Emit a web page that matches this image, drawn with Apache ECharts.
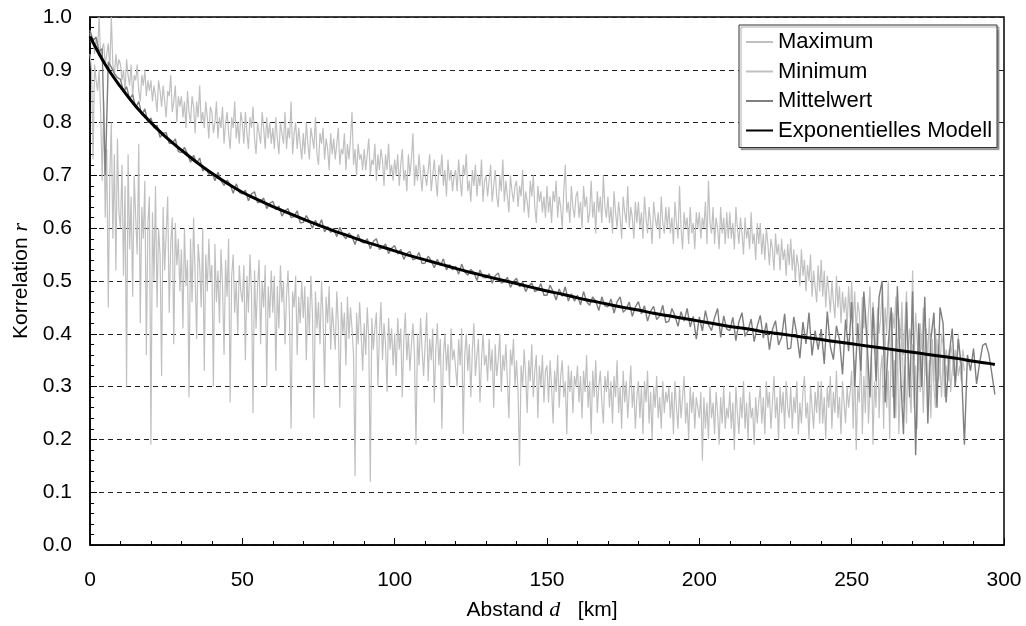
<!DOCTYPE html>
<html>
<head>
<meta charset="utf-8">
<script src="https://cdn.jsdelivr.net/npm/echarts@6/dist/echarts.min.js"></script>
<style>
html,body{margin:0;padding:0;background:#fff;}
#c{width:1026px;height:626px;}
</style>
</head>
<body>
<div id="c"></div>
<script>
// Maximum / Minimum: one value every 0.5 km starting at 0 km
const stepMaxMin = 0.5;
const maximumR = [
0.97,0.95,0.96,0.93,0.96,0.94,1.00,0.92,0.94,0.95,0.91,0.93,0.95,0.90,1.00,0.91,0.89,0.93,0.90,0.92,
0.91,0.88,0.90,0.86,0.92,0.89,0.87,0.91,0.85,0.89,0.88,0.91,0.86,0.84,0.89,0.87,0.90,0.85,0.88,0.86,
0.88,0.84,0.87,0.85,0.82,0.88,0.86,0.83,0.87,0.84,0.81,0.86,0.85,0.89,0.82,0.84,0.87,0.80,0.85,0.83,
0.85,0.81,0.84,0.79,0.86,0.82,0.80,0.85,0.83,0.78,0.84,0.81,0.87,0.80,0.82,0.79,0.84,0.81,0.77,0.83,
0.82,0.78,0.80,0.84,0.77,0.81,0.79,0.83,0.76,0.80,0.82,0.78,0.75,0.81,0.79,0.84,0.77,0.80,0.76,0.82,
0.80,0.76,0.82,0.78,0.75,0.81,0.79,0.83,0.77,0.74,0.80,0.78,0.76,0.82,0.79,0.75,0.81,0.77,0.80,0.76,
0.79,0.75,0.81,0.77,0.74,0.80,0.78,0.76,0.82,0.75,0.79,0.77,0.84,0.74,0.78,0.80,0.75,0.79,0.76,0.73,
0.78,0.74,0.80,0.76,0.73,0.79,0.77,0.75,0.81,0.74,0.72,0.78,0.76,0.79,0.73,0.77,0.75,0.71,0.78,0.74,
0.77,0.73,0.76,0.79,0.72,0.75,0.74,0.78,0.71,0.76,0.73,0.77,0.82,0.72,0.75,0.70,0.76,0.73,0.74,0.71,
0.75,0.71,0.74,0.77,0.70,0.73,0.72,0.76,0.69,0.74,0.71,0.75,0.73,0.68,0.74,0.71,0.76,0.70,0.72,0.69,
0.73,0.70,0.74,0.68,0.72,0.75,0.69,0.71,0.67,0.74,0.70,0.73,0.78,0.68,0.72,0.69,0.74,0.70,0.67,0.72,
0.72,0.68,0.71,0.74,0.67,0.70,0.73,0.69,0.66,0.72,0.70,0.74,0.68,0.71,0.66,0.73,0.69,0.71,0.67,0.70,
0.71,0.67,0.73,0.69,0.66,0.72,0.70,0.74,0.67,0.69,0.65,0.71,0.68,0.72,0.66,0.70,0.68,0.73,0.65,0.69,
0.70,0.66,0.69,0.72,0.65,0.68,0.71,0.66,0.64,0.70,0.67,0.73,0.65,0.69,0.66,0.63,0.70,0.67,0.65,0.68,
0.69,0.64,0.68,0.66,0.71,0.63,0.67,0.65,0.62,0.69,0.66,0.70,0.64,0.61,0.68,0.65,0.67,0.63,0.66,0.62,
0.68,0.63,0.66,0.61,0.67,0.65,0.69,0.62,0.66,0.64,0.60,0.67,0.72,0.63,0.65,0.61,0.68,0.64,0.62,0.66,
0.67,0.62,0.65,0.60,0.68,0.64,0.66,0.61,0.63,0.69,0.62,0.65,0.59,0.67,0.63,0.66,0.61,0.70,0.64,0.62,
0.66,0.61,0.64,0.59,0.67,0.63,0.60,0.65,0.62,0.58,0.66,0.63,0.61,0.68,0.60,0.64,0.62,0.58,0.65,0.61,
0.65,0.60,0.63,0.58,0.66,0.62,0.59,0.64,0.61,0.57,0.65,0.62,0.60,0.63,0.58,0.66,0.61,0.59,0.64,0.60,
0.64,0.59,0.62,0.57,0.65,0.61,0.58,0.68,0.60,0.56,0.63,0.60,0.62,0.57,0.64,0.59,0.61,0.56,0.63,0.60,
0.63,0.58,0.62,0.60,0.65,0.57,0.69,0.61,0.59,0.64,0.57,0.62,0.60,0.56,0.64,0.59,0.62,0.57,0.63,0.58,
0.63,0.58,0.61,0.56,0.64,0.60,0.57,0.62,0.59,0.55,0.62,0.58,0.60,0.56,0.63,0.57,0.59,0.54,0.61,0.57,
0.61,0.55,0.59,0.54,0.60,0.57,0.53,0.58,0.56,0.52,0.59,0.55,0.57,0.52,0.58,0.54,0.56,0.51,0.57,0.53,
0.58,0.52,0.56,0.50,0.55,0.53,0.49,0.56,0.51,0.54,0.48,0.53,0.50,0.55,0.47,0.52,0.49,0.46,0.53,0.48,
0.54,0.47,0.52,0.45,0.51,0.48,0.44,0.50,0.46,0.43,0.51,0.45,0.49,0.42,0.48,0.44,0.47,0.41,0.49,0.43,
0.50,0.42,0.48,0.40,0.46,0.44,0.38,0.47,0.41,0.45,0.37,0.44,0.49,0.39,0.46,0.42,0.36,0.45,0.40,0.43,
0.48,0.36,0.45,0.40,0.50,0.38,0.35,0.44,0.41,0.47,0.34,0.43,0.39,0.46,0.36,0.42,0.48,0.35,0.41,0.38,
0.52,0.35,0.44,0.39,0.33,0.42,0.37,0.45,0.32,0.40,0.36,0.43,0.34,0.39,0.31,0.41,0.36,0.38,0.33,0.40,
0.38,0.33,0.37,0.35,0.31,0.38,0.36,0.32,0.37,0.34,0.40,0.35,0.33,0.37,0.35
];
const minimumR = [
0.93,0.90,0.73,0.91,0.88,0.86,0.90,0.82,0.69,0.84,0.62,0.75,0.45,0.70,0.80,0.58,0.74,0.52,0.77,0.63,
0.60,0.72,0.51,0.68,0.30,0.74,0.56,0.66,0.47,0.70,0.62,0.55,0.76,0.42,0.64,0.58,0.69,0.36,0.61,0.66,
0.19,0.63,0.50,0.68,0.45,0.60,0.55,0.32,0.64,0.52,0.59,0.66,0.44,0.57,0.62,0.38,0.61,0.53,0.58,0.48,
0.56,0.41,0.60,0.49,0.54,0.28,0.58,0.46,0.62,0.51,0.39,0.57,0.53,0.45,0.60,0.33,0.55,0.48,0.58,0.50,
0.53,0.30,0.57,0.46,0.52,0.42,0.56,0.49,0.36,0.54,0.47,0.58,0.27,0.51,0.55,0.44,0.50,0.40,0.53,0.48,
0.46,0.53,0.35,0.51,0.44,0.55,0.48,0.25,0.52,0.41,0.49,0.54,0.38,0.50,0.45,0.53,0.30,0.49,0.43,0.52,
0.44,0.51,0.33,0.49,0.41,0.53,0.46,0.50,0.38,0.47,0.52,0.43,0.22,0.48,0.45,0.51,0.36,0.47,0.42,0.50,
0.43,0.49,0.35,0.47,0.40,0.51,0.44,0.24,0.48,0.41,0.46,0.38,0.50,0.43,0.30,0.47,0.42,0.49,0.37,0.45,
0.45,0.37,0.48,0.42,0.26,0.46,0.40,0.44,0.34,0.47,0.39,0.45,0.41,0.36,0.13,0.44,0.38,0.46,0.40,0.33,
0.42,0.36,0.45,0.39,0.12,0.43,0.37,0.41,0.44,0.30,0.40,0.46,0.35,0.42,0.38,0.29,0.43,0.37,0.41,0.34,
0.40,0.32,0.43,0.37,0.41,0.28,0.39,0.44,0.35,0.40,0.33,0.38,0.42,0.36,0.19,0.40,0.34,0.43,0.37,0.32,
0.38,0.44,0.31,0.39,0.35,0.41,0.27,0.37,0.42,0.34,0.39,0.22,0.36,0.40,0.33,0.38,0.30,0.41,0.35,0.37,
0.37,0.30,0.39,0.34,0.41,0.21,0.36,0.40,0.33,0.38,0.28,0.37,0.42,0.32,0.36,0.39,0.27,0.35,0.40,0.34,
0.36,0.31,0.39,0.33,0.37,0.26,0.38,0.32,0.35,0.40,0.29,0.36,0.33,0.38,0.31,0.24,0.37,0.34,0.39,0.30,
0.35,0.29,0.15,0.34,0.30,0.37,0.32,0.25,0.35,0.31,0.38,0.28,0.33,0.36,0.24,0.34,0.30,0.36,0.27,0.33,
0.34,0.27,0.35,0.30,0.23,0.33,0.29,0.36,0.26,0.32,0.35,0.28,0.31,0.21,0.34,0.29,0.33,0.25,0.32,0.30,
0.34,0.27,0.32,0.24,0.33,0.29,0.36,0.26,0.31,0.21,0.33,0.28,0.35,0.25,0.30,0.33,0.27,0.23,0.32,0.29,
0.33,0.26,0.31,0.23,0.32,0.28,0.35,0.25,0.30,0.22,0.33,0.27,0.31,0.24,0.29,0.34,0.26,0.30,0.22,0.28,
0.31,0.24,0.30,0.21,0.31,0.27,0.33,0.23,0.29,0.20,0.30,0.26,0.32,0.24,0.28,0.22,0.31,0.25,0.29,0.27,
0.30,0.24,0.29,0.21,0.31,0.26,0.22,0.30,0.24,0.28,0.32,0.23,0.27,0.20,0.30,0.25,0.29,0.22,0.28,0.26,
0.24,0.29,0.16,0.28,0.22,0.27,0.20,0.30,0.24,0.27,0.21,0.29,0.25,0.19,0.28,0.23,0.30,0.22,0.26,0.24,
0.29,0.22,0.27,0.18,0.30,0.25,0.21,0.28,0.24,0.31,0.22,0.27,0.20,0.29,0.24,0.26,0.19,0.28,0.23,0.27,
0.30,0.23,0.28,0.21,0.31,0.26,0.29,0.22,0.27,0.32,0.24,0.28,0.20,0.30,0.25,0.29,0.22,0.31,0.26,0.24,
0.30,0.22,0.28,0.25,0.31,0.21,0.27,0.23,0.29,0.32,0.24,0.27,0.20,0.30,0.26,0.22,0.29,0.25,0.31,0.23,
0.31,0.23,0.28,0.20,0.30,0.26,0.32,0.22,0.29,0.25,0.33,0.24,0.28,0.21,0.31,0.27,0.23,0.30,0.26,0.29,
0.33,0.22,0.35,0.18,0.30,0.27,0.38,0.21,0.32,0.25,0.40,0.23,0.29,0.36,0.19,0.31,0.26,0.42,0.24,0.33,
0.36,0.22,0.40,0.26,0.33,0.20,0.42,0.28,0.35,0.24,0.39,0.21,0.31,0.44,0.27,0.34,0.23,0.37,0.29,0.25,
0.38,0.26,0.34,0.22,0.40,0.29,0.36,0.25,0.33,0.41,0.28,0.35,0.24,0.37,0.30,0.26,0.39,0.31,0.34,0.28,
0.36,0.28,0.34,0.31,0.37,0.29,0.33,0.35,0.30,0.36,0.32,0.34,0.31,0.35,0.33
];
// Mittelwert: one value every 1 km starting at 0 km
const stepMittel = 1;
const mittelwertR = [
0.975,0.955,0.962,0.935,0.940,0.700,0.915,0.905,0.893,0.885,
0.882,0.858,0.868,0.845,0.853,0.828,0.840,0.814,0.826,0.800,
0.809,0.790,0.795,0.772,0.780,0.781,0.761,0.761,0.769,0.745,
0.743,0.753,0.741,0.725,0.738,0.723,0.733,0.708,0.715,0.702,
0.706,0.690,0.706,0.690,0.681,0.691,0.683,0.666,0.684,0.668,
0.665,0.672,0.652,0.665,0.669,0.648,0.651,0.657,0.637,0.647,
0.651,0.635,0.642,0.623,0.633,0.637,0.620,0.622,0.633,0.610,
0.611,0.624,0.614,0.600,0.615,0.603,0.616,0.593,0.603,0.592,
0.599,0.584,0.602,0.587,0.580,0.591,0.584,0.569,0.588,0.574,
0.572,0.580,0.561,0.575,0.580,0.560,0.563,0.570,0.552,0.562,
0.567,0.551,0.560,0.541,0.552,0.556,0.540,0.543,0.554,0.533,
0.534,0.547,0.538,0.525,0.541,0.529,0.542,0.521,0.531,0.521,
0.528,0.513,0.532,0.517,0.511,0.522,0.516,0.501,0.521,0.507,
0.506,0.514,0.496,0.510,0.515,0.496,0.499,0.507,0.488,0.499,
0.505,0.489,0.498,0.480,0.491,0.496,0.480,0.483,0.495,0.473,
0.473,0.492,0.480,0.464,0.485,0.471,0.489,0.462,0.476,0.462,
0.473,0.455,0.480,0.461,0.454,0.470,0.462,0.444,0.470,0.453,
0.451,0.466,0.439,0.461,0.470,0.441,0.447,0.460,0.433,0.451,
0.461,0.438,0.453,0.424,0.443,0.452,0.427,0.434,0.454,0.421,
0.424,0.448,0.434,0.414,0.442,0.424,0.448,0.413,0.433,0.390,
0.432,0.405,0.444,0.417,0.406,0.431,0.448,0.393,0.434,0.409,
0.406,0.431,0.387,0.423,0.440,0.395,0.406,0.428,0.385,0.414,
0.435,0.392,0.421,0.370,0.408,0.425,0.379,0.393,0.438,0.371,
0.373,0.432,0.399,0.354,0.422,0.381,0.440,0.359,0.406,0.370,
0.409,0.343,0.442,0.376,0.351,0.415,0.389,0.323,0.427,0.367,
0.460,0.300,0.420,0.330,0.480,0.390,0.280,0.450,0.310,0.470,
0.500,0.270,0.380,0.450,0.240,0.490,0.330,0.210,0.460,0.280,
0.480,0.170,0.420,0.300,0.470,0.230,0.390,0.440,0.260,0.450,
0.420,0.270,0.360,0.410,0.300,0.390,0.340,0.190,0.360,0.330,
0.372,0.305,0.345,0.378,0.382,0.362,0.325,0.285
];
// Exponential model, every 5 km
const modellKm = [0,5,10,15,20,25,30,35,40,45,50,55,60,65,70,75,80,85,90,95,100,105,110,115,120,125,130,135,140,145,150,155,160,165,170,175,180,185,190,195,200,205,210,215,220,225,230,235,240,245,250,255,260,265,270,275,280,285,290,295,297];
const modellR  = [0.963,0.910,0.868,0.831,0.800,0.772,0.748,0.725,0.704,0.685,0.668,0.654,0.641,0.629,0.617,0.606,0.595,0.585,0.575,0.566,0.557,0.548,0.540,0.532,0.524,0.516,0.509,0.502,0.495,0.488,0.481,0.475,0.468,0.462,0.456,0.450,0.445,0.439,0.434,0.429,0.424,0.419,0.414,0.410,0.405,0.401,0.397,0.393,0.389,0.385,0.381,0.377,0.373,0.369,0.365,0.361,0.357,0.353,0.348,0.344,0.342];
const seriesNames = ['Maximum','Minimum','Mittelwert','Exponentielles Modell'];
const yTickLabels = ['0.0','0.1','0.2','0.3','0.4','0.5','0.6','0.7','0.8','0.9','1.0'];

const toPairs = (arr, step) => arr.map((v, i) => [i * step, v]);
const FONT = 'Liberation Sans, Arial, sans-serif';
const SERIF = 'Liberation Serif, DejaVu Serif, serif';

const chart = echarts.init(document.getElementById('c'), null, {renderer: 'canvas'});
chart.setOption({
  animation: false,
  backgroundColor: '#fff',
  grid: {left: 90, right: 22, top: 17, bottom: 81, show: true, borderColor: '#000', borderWidth: 1.5, backgroundColor: 'transparent'},
  legend: {
    data: seriesNames,
    orient: 'vertical',
    left: 739, top: 25,
    itemWidth: 27, itemHeight: 21, itemGap: 7.5,
    padding: [6, 5, 6, 6],
    backgroundColor: '#fff',
    borderColor: '#333', borderWidth: 1,
    shadowColor: 'rgba(0,0,0,0.35)', shadowOffsetX: 2, shadowOffsetY: 2, shadowBlur: 1,
    itemStyle: {opacity: 0, borderWidth: 0},
    textStyle: {fontSize: 22, color: '#000', fontFamily: FONT}
  },
  xAxis: {
    type: 'value', min: 0, max: 300, interval: 50,
    name: 'Abstand {i|d}   [km]',
    nameLocation: 'middle', nameGap: 54,
    nameTextStyle: {fontSize: 21, color: '#000', fontFamily: FONT, padding: [0, 10, 0, 0],
      rich: {i: {fontStyle: 'italic', fontFamily: SERIF, fontSize: 22, color: '#000'}}},
    axisLine: {show: true, lineStyle: {color: '#000', width: 1.5}},
    axisTick: {show: true, inside: true, length: 7, lineStyle: {color: '#000', width: 1}},
    minorTick: {show: true, splitNumber: 5, length: 4, lineStyle: {color: '#000', width: 1}},
    axisLabel: {fontSize: 21, color: '#000', fontFamily: FONT, margin: 25},
    splitLine: {show: false}
  },
  yAxis: {
    type: 'value', min: 0, max: 1, interval: 0.1,
    name: 'Korrelation {i|r}',
    nameLocation: 'middle', nameGap: 58,
    nameTextStyle: {fontSize: 21, color: '#000', fontFamily: FONT,
      rich: {i: {fontStyle: 'italic', fontFamily: SERIF, fontSize: 22, color: '#000'}}},
    axisLine: {show: true, lineStyle: {color: '#000', width: 1.5}},
    axisTick: {show: true, inside: true, length: 7, lineStyle: {color: '#000', width: 1}},
    minorTick: {show: true, splitNumber: 5, length: 4, lineStyle: {color: '#000', width: 1}},
    axisLabel: {fontSize: 21, color: '#000', fontFamily: FONT, margin: 18,
      formatter: v => yTickLabels[Math.round(v * 10)]},
    splitLine: {show: true, lineStyle: {color: '#222', width: 1, type: [5, 4]}}
  },
  series: [
    {name: seriesNames[0], type: 'line', symbol: 'none', data: toPairs(maximumR, stepMaxMin),
     lineStyle: {color: '#c0c0c0', width: 1.2}, itemStyle: {color: '#c0c0c0'}, z: 2},
    {name: seriesNames[1], type: 'line', symbol: 'none', data: toPairs(minimumR, stepMaxMin),
     lineStyle: {color: '#c0c0c0', width: 1.2}, itemStyle: {color: '#c0c0c0'}, z: 2},
    {name: seriesNames[2], type: 'line', symbol: 'none', data: toPairs(mittelwertR, stepMittel),
     lineStyle: {color: '#7f7f7f', width: 1.4}, itemStyle: {color: '#7f7f7f'}, z: 3},
    {name: seriesNames[3], type: 'line', symbol: 'none', smooth: 0.4,
     data: modellKm.map((k, i) => [k, modellR[i]]),
     lineStyle: {color: '#000', width: 3}, itemStyle: {color: '#000'}, z: 4}
  ]
});
</script>
</body>
</html>
